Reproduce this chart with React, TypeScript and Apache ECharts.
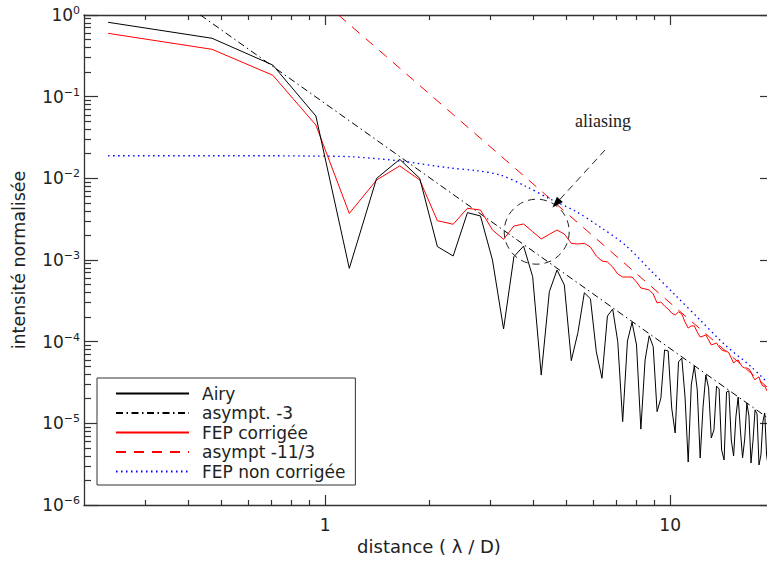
import React, { useEffect, useRef } from "react";
import * as echarts from "echarts";

// ---- data ----
const DIST = [
  0.235, 0.47, 0.705, 0.94, 1.175, 1.41, 1.645, 1.88, 2.115, 2.35,
  2.585, 2.82, 3.055, 3.29, 3.525, 3.76, 3.995, 4.23, 4.465, 4.7,
  4.935, 5.17, 5.405, 5.64, 5.875, 6.11, 6.345, 6.58, 6.815, 7.05,
  7.285, 7.52, 7.755, 7.99, 8.225, 8.46, 8.695, 8.93, 9.165, 9.4,
  9.635, 9.87, 10.105, 10.34, 10.575, 10.81, 11.045, 11.28, 11.515, 11.75,
  11.985, 12.22, 12.455, 12.69, 12.925, 13.16, 13.395, 13.63, 13.865, 14.1,
  14.335, 14.57, 14.805, 15.04, 15.275, 15.51, 15.745, 15.98, 16.215, 16.45,
  16.685, 16.92, 17.155, 17.39, 17.625, 17.86, 18.095, 18.33, 18.565, 18.8,
  19.035, 19.27,
];

const AIRY = [
  0.814, 0.519, 0.244, 0.058, 7.9e-4, 1.0e-2, 1.71e-2, 1.0e-2, 1.46e-3, 1.12e-3,
  3.8e-3, 3.46e-3, 1.0e-3, 1.43e-4, 1.1e-3, 1.48e-3, 6.25e-4, 3.9e-5, 4.09e-4, 7.55e-4,
  4.94e-4, 5.85e-5, 1.3e-4, 3.97e-4, 3.35e-4, 7.5e-5, 3.56e-5, 2.06e-4, 2.51e-4, 1.0e-4,
  1.05e-5, 1.02e-4, 1.73e-4, 9.1e-5, 8.5e-6, 5.97e-5, 1.18e-4, 8.7e-5, 1.39e-5, 2.03e-5,
  7.9e-5, 7.7e-5, 1.54e-5, 7.62e-6, 5.64e-5, 6.31e-5, 2.1e-5, 3.36e-6, 2.95e-5, 5.04e-5,
  2.56e-5, 3.77e-6, 1.58e-5, 3.91e-5, 2.71e-5, 6.62e-6, 8.3e-6, 2.86e-5, 2.64e-5, 4.72e-6,
  3.56e-6, 2.42e-5, 2.49e-5, 6.25e-6, 3.98e-6, 1.2e-5, 2.1e-5, 8.3e-6, 3.77e-6, 6.43e-6,
  1.77e-5, 1.23e-5, 3.27e-6, 6.25e-6, 1.46e-5, 1.3e-5, 3.09e-6, 4.09e-6, 1.04e-5, 1.34e-5,
  4.09e-6, 2.84e-6,
];

const FEP_CORR = [
  0.596, 0.38, 0.183, 0.045, 3.72e-3, 9.55e-3, 1.42e-2, 9.55e-3, 3.03e-3, 2.74e-3,
  4.3e-3, 4.09e-3, 2.33e-3, 1.79e-3, 2.61e-3, 2.76e-3, 2.22e-3, 1.81e-3, 2.06e-3, 2.33e-3,
  2.08e-3, 1.6e-3, 1.57e-3, 1.6e-3, 1.44e-3, 1.12e-3, 9.72e-4, 9.46e-4, 8.21e-4, 6.74e-4,
  6.19e-4, 6.19e-4, 6.19e-4, 5.38e-4, 4.54e-4, 4.42e-4, 4.3e-4, 3.84e-4, 2.98e-4, 3.06e-4,
  2.73e-4, 2.51e-4, 2.24e-4, 2.12e-4, 2.31e-4, 2.18e-4, 1.74e-4, 1.47e-4, 1.56e-4, 1.56e-4,
  1.31e-4, 1.14e-4, 1.17e-4, 1.21e-4, 1.05e-4, 9.1e-5, 9.37e-5, 9.64e-5, 8.61e-5, 7.91e-5,
  7.69e-5, 7.69e-5, 7.27e-5, 6.31e-5, 5.48e-5, 5.8e-5, 5.97e-5, 5.33e-5, 4.9e-5, 4.76e-5,
  4.76e-5, 4.63e-5, 4.25e-5, 3.7e-5, 3.4e-5, 3.59e-5, 3.7e-5, 3.12e-5, 2.86e-5, 2.86e-5,
  2.56e-5, 2.35e-5,
];

const BLUE_DIST = [
  0.235, 0.47, 0.705, 0.94, 1.181, 1.65, 2.303, 2.721, 3.216, 3.799,
  4.489, 5.303, 6.266, 7.405, 8.75, 10.339, 12.217, 14.435, 17.058, 20,
];
const FEP_NON_CORR = [
  1.89e-2, 1.89e-2, 1.89e-2, 1.87e-2, 1.84e-2, 1.63e-2, 1.338e-2, 1.247e-2, 1.099e-2, 8.06e-3,
  5.58e-3, 3.98e-3, 2.54e-3, 1.53e-3, 7.55e-4, 3.73e-4, 1.84e-4, 9.1e-5, 5.04e-5, 2.64e-5,
];

const ASYM3_X = [0.435, 20];
const ASYM3_Y = [1.0, 1.03e-5];
const ASYM113_X = [1.093, 20];
const ASYM113_Y = [1.0, 2.35e-5];

const SERIES_NAMES = ["Airy", "asympt. -3", "FEP corrigée", "asympt -11/3", "FEP non corrigée"];

const X_MAJOR = [1, 10];
const X_MINOR = [0.3, 0.4, 0.5, 0.6, 0.7, 0.8, 0.9, 2, 3, 4, 5, 6, 7, 8, 9];
const Y_MAJOR = [1e-6, 1e-5, 1e-4, 1e-3, 1e-2, 1e-1, 1];
const Y_DECADES = [1e-6, 1e-5, 1e-4, 1e-3, 1e-2, 1e-1];
const Y_MULT = [2, 3, 4, 5, 6, 7, 8, 9];

const X_TITLE = "distance ( λ / D)";
const Y_TITLE = "intensité normalisée";
const NOTE = "aliasing";

const FONT = "DejaVu Sans";
const AX = "#333";
const TXT = "#222";

function pairs(xs: number[], ys: number[]) {
  return xs.map((x, i) => [x, ys[i]]);
}

export default function App() {
  const ref = useRef<HTMLDivElement>(null);

  useEffect(() => {
    if (!ref.current) return;
    const chart = echarts.init(ref.current, null, { renderer: "svg" });

    const yMinor: number[] = [];
    Y_DECADES.forEach((d) => Y_MULT.forEach((m) => yMinor.push(+(m * d).toPrecision(3))));

    const xBase = (pos: string, major: boolean, extra: any = {}) => ({
      type: "log",
      logBase: 10,
      min: 0.2,
      max: 20,
      position: pos,
      axisLine: { show: major, onZero: false, lineStyle: { color: AX, width: 1.3 } },
      axisTick: {
        show: true,
        inside: true,
        length: major ? 10 : 5,
        customValues: major ? X_MAJOR : X_MINOR,
        lineStyle: { color: AX, width: 1.2 },
      },
      axisLabel: { show: false },
      splitLine: { show: false },
      minorTick: { show: false },
      ...extra,
    });
    const yBase = (pos: string, major: boolean, extra: any = {}) => ({
      type: "log",
      logBase: 10,
      min: 1e-6,
      max: 1,
      position: pos,
      axisLine: { show: major, onZero: false, lineStyle: { color: AX, width: 1.3 } },
      axisTick: {
        show: true,
        inside: true,
        length: major ? 14 : 7,
        customValues: major ? Y_MAJOR : yMinor,
        lineStyle: { color: AX, width: 1.2 },
      },
      axisLabel: { show: false },
      splitLine: { show: false },
      minorTick: { show: false },
      ...extra,
    });

    const option: any = {
      animation: false,
      backgroundColor: "#fff",
      grid: { left: 84, top: 15, width: 690, height: 490, containLabel: false, outerBoundsMode: "none" },
      xAxis: [
        xBase("bottom", true, {
          name: X_TITLE,
          nameLocation: "middle",
          nameGap: 30,
          nameTextStyle: { fontFamily: FONT, fontSize: 18, color: TXT },
          axisLabel: {
            show: true,
            customValues: X_MAJOR,
            margin: 11,
            fontFamily: FONT,
            fontSize: 17,
            color: TXT,
            formatter: (v: number) => String(Math.round(v)),
          },
        }),
        xBase("bottom", false),
        xBase("top", true),
        xBase("top", false),
      ],
      yAxis: [
        yBase("left", true, {
          name: Y_TITLE,
          nameLocation: "middle",
          nameRotate: 90,
          nameGap: 56,
          nameTextStyle: { fontFamily: FONT, fontSize: 17.5, color: TXT },
          axisLabel: {
            show: true,
            customValues: Y_MAJOR,
            margin: 4,
            color: TXT,
            formatter: (v: number) => {
              const e = Math.round(Math.log10(v));
              return "{b|10}{e|" + (e < 0 ? "\u2212" + -e : String(e)) + "}";
            },
            rich: {
              b: { fontFamily: FONT, fontSize: 17, lineHeight: 20, color: TXT },
              e: { fontFamily: FONT, fontSize: 11, lineHeight: 13, verticalAlign: "top", color: TXT },
            },
          },
        }),
        yBase("left", false),
        yBase("right", true),
        yBase("right", false),
      ],
      legend: {
        orient: "vertical",
        left: 97,
        top: 378,
        data: SERIES_NAMES,
        itemWidth: 73,
        itemHeight: 14,
        itemGap: 2.5,
        padding: [7, 10, 5, 18],
        borderColor: AX,
        borderWidth: 1,
        backgroundColor: "#fff",
        selectedMode: false,
        itemStyle: { opacity: 0 },
        textStyle: { fontFamily: FONT, fontSize: 17, lineHeight: 17, color: TXT, padding: [0, 0, 0, 8] },
      },
      series: [
        {
          name: SERIES_NAMES[0],
          type: "line",
          data: pairs(DIST, AIRY),
          symbol: "none",
          lineStyle: { color: "#000", width: 1 },
          itemStyle: { color: "#000" },
          z: 5,
        },
        {
          name: SERIES_NAMES[1],
          type: "line",
          data: pairs(ASYM3_X, ASYM3_Y),
          symbol: "none",
          lineStyle: { color: "#000", width: 1, type: [7, 3.5, 1.5, 3.5] },
          itemStyle: { color: "#000" },
          z: 3,
        },
        {
          name: SERIES_NAMES[2],
          type: "line",
          data: pairs(DIST, FEP_CORR),
          symbol: "none",
          lineStyle: { color: "#ff0000", width: 1 },
          itemStyle: { color: "#ff0000" },
          z: 4,
        },
        {
          name: SERIES_NAMES[3],
          type: "line",
          data: pairs(ASYM113_X, ASYM113_Y),
          symbol: "none",
          lineStyle: { color: "#ff0000", width: 1, type: [10, 8] },
          itemStyle: { color: "#ff0000" },
          z: 3,
        },
        {
          name: SERIES_NAMES[4],
          type: "line",
          data: pairs(BLUE_DIST, FEP_NON_CORR),
          symbol: "none",
          smooth: 0.3,
          lineStyle: { color: "#0000ff", width: 1.3, type: [1.5, 3.5] },
          itemStyle: { color: "#0000ff" },
          z: 3,
        },
      ],
      graphic: [
        {
          type: "circle",
          shape: { cx: 536.7, cy: 231.7, r: 32.5 },
          style: { fill: "none", stroke: TXT, lineWidth: 1, lineDash: [7, 5] },
          z: 100,
        },
        {
          type: "line",
          shape: { x1: 605, y1: 150, x2: 558, y2: 201.5 },
          style: { stroke: TXT, lineWidth: 1, lineDash: [7, 5] },
          z: 100,
        },
        {
          type: "polygon",
          shape: { points: [[552.5, 207.5], [562.9, 202.1], [556.9, 196.7]] },
          style: { fill: "#000" },
          z: 100,
        },
        {
          type: "text",
          x: 603,
          y: 121,
          style: {
            text: NOTE,
            fontFamily: "Liberation Serif",
            fontSize: 18,
            fill: TXT,
            align: "center",
            verticalAlign: "middle",
          },
          z: 100,
        },
      ],
    };

    chart.setOption(option);
    return () => chart.dispose();
  }, []);

  return (
    <div
      style={{
        position: "absolute",
        left: 0,
        top: 0,
        width: 767,
        height: 561,
        overflow: "hidden",
        background: "#fff",
      }}
    >
      <div ref={ref} style={{ width: 800, height: 561 }} />
    </div>
  );
}
